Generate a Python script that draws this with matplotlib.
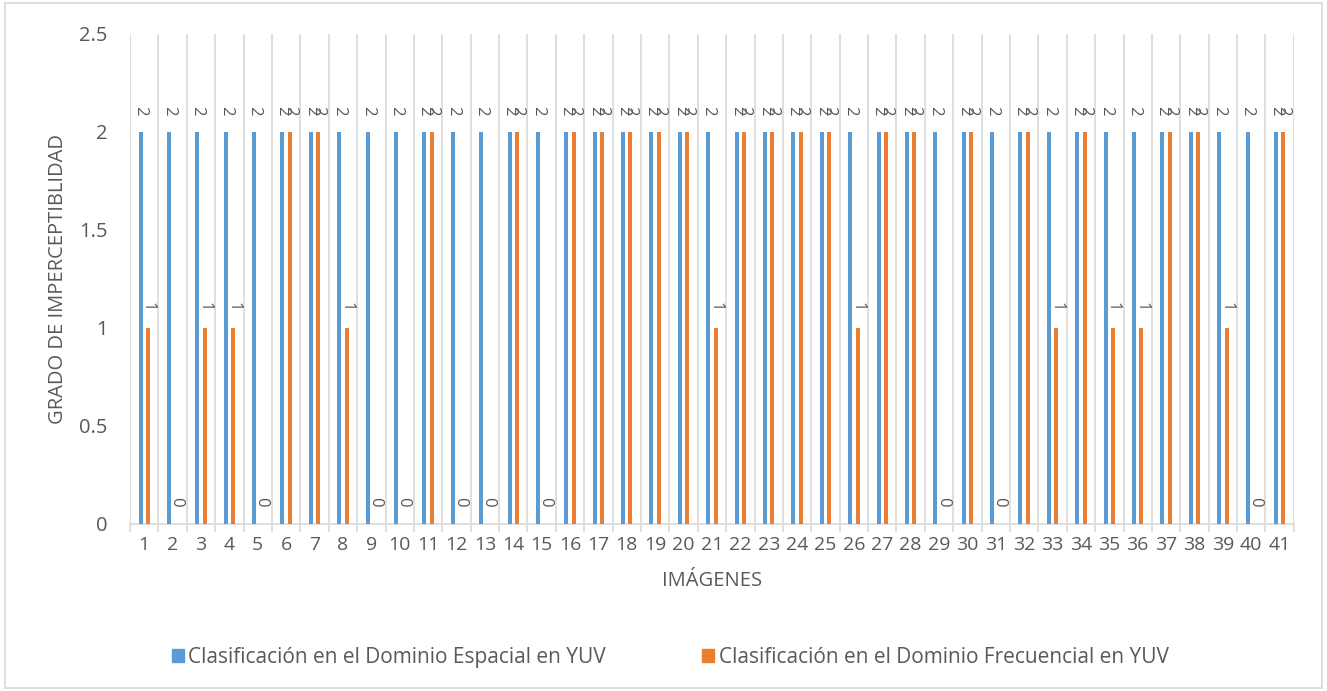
# Gráfico de barras: grado de imperceptibilidad por imagen
import numpy as np
import matplotlib.pyplot as plt
from matplotlib.patches import Rectangle, Patch

plt.rcParams['font.family'] = ['Open Sans', 'DejaVu Sans']

# datos
imagenes = [str(i) for i in range(1, 42)]
espacial_yuv = [2] * 41
frecuencial_yuv = [1, 0, 1, 1, 0, 2, 2, 1, 0, 0,
                   2, 0, 0, 2, 0, 2, 2, 2, 2, 2,
                   1, 2, 2, 2, 2, 1, 2, 2, 0, 2,
                   0, 2, 1, 2, 1, 1, 2, 2, 1, 0,
                   2]
nombres = ["Clasificación en el Dominio Espacial en YUV",
           "Clasificación en el Dominio Frecuencial en YUV"]
y_ticks = [0, 0.5, 1, 1.5, 2, 2.5]
y_ticklabels = ["0", "0.5", "1", "1.5", "2", "2.5"]

azul = '#5B9BD5'
naranja = '#ED7D31'
gris_texto = '#595959'
gris_linea = '#D9D9D9'

fig = plt.figure(figsize=(13.27, 6.91), dpi=100)
ax = fig.add_axes([0.098, 0.242, 0.877, 0.709])

x = np.arange(1, len(imagenes) + 1)
ancho = 0.14
desp = 0.13

ax.bar(x - desp, espacial_yuv, width=ancho, color=azul, zorder=3)
ax.bar(x + desp, frecuencial_yuv, width=ancho, color=naranja, zorder=3)

# etiquetas de datos rotadas
for xi, v in zip(x, espacial_yuv):
    ax.text(xi - desp, v + 0.11, str(v), rotation=270, ha='center', va='center',
            fontsize=12, color=gris_texto)
for xi, v in zip(x, frecuencial_yuv):
    ax.text(xi + desp, v + 0.11, str(v), rotation=270, ha='center', va='center',
            fontsize=12, color=gris_texto)

ax.set_xlim(0.5, len(imagenes) + 0.5)
ax.set_ylim(0, 2.5)

# líneas verticales entre categorías
bordes = np.arange(0.5, len(imagenes) + 1, 1)
ax.set_xticks(bordes)
ax.set_xticklabels([])
ax.tick_params(axis='x', which='major', length=6, color=gris_linea, width=1.2)
ax.set_xticks(x, minor=True)
ax.set_xticklabels(imagenes, minor=True, fontsize=14, color=gris_texto)
ax.tick_params(axis='x', which='minor', length=0, pad=9)
ax.grid(axis='x', which='major', color=gris_linea, linewidth=1.2, zorder=0)

ax.set_yticks(y_ticks)
ax.set_yticklabels(y_ticklabels, fontsize=14.5, color=gris_texto)
ax.tick_params(axis='y', length=0, pad=16)

for lado in ['top', 'right', 'left']:
    ax.spines[lado].set_visible(False)
ax.spines['bottom'].set_color(gris_linea)
ax.spines['bottom'].set_linewidth(1.2)

ax.set_xlabel("IMÁGENES", fontsize=14.5, color=gris_texto, labelpad=12)
ax.set_ylabel("GRADO DE IMPERCEPTIBLIDAD", fontsize=14.5, color=gris_texto, labelpad=8)

handles = [Patch(color=azul), Patch(color=naranja)]
fig.legend(handles, nombres, loc='center', bbox_to_anchor=(0.505, 0.049), ncol=2,
           frameon=False, fontsize=15, labelcolor=gris_texto, handlelength=0.6,
           handleheight=0.6, handletextpad=0.2, columnspacing=4.6)

# borde del gráfico
fig.patches.append(Rectangle((0.004, 0.004), 0.992, 0.991, transform=fig.transFigure,
                             fill=False, edgecolor=gris_linea, linewidth=1.2))

fig.savefig('out.png', dpi=100)
